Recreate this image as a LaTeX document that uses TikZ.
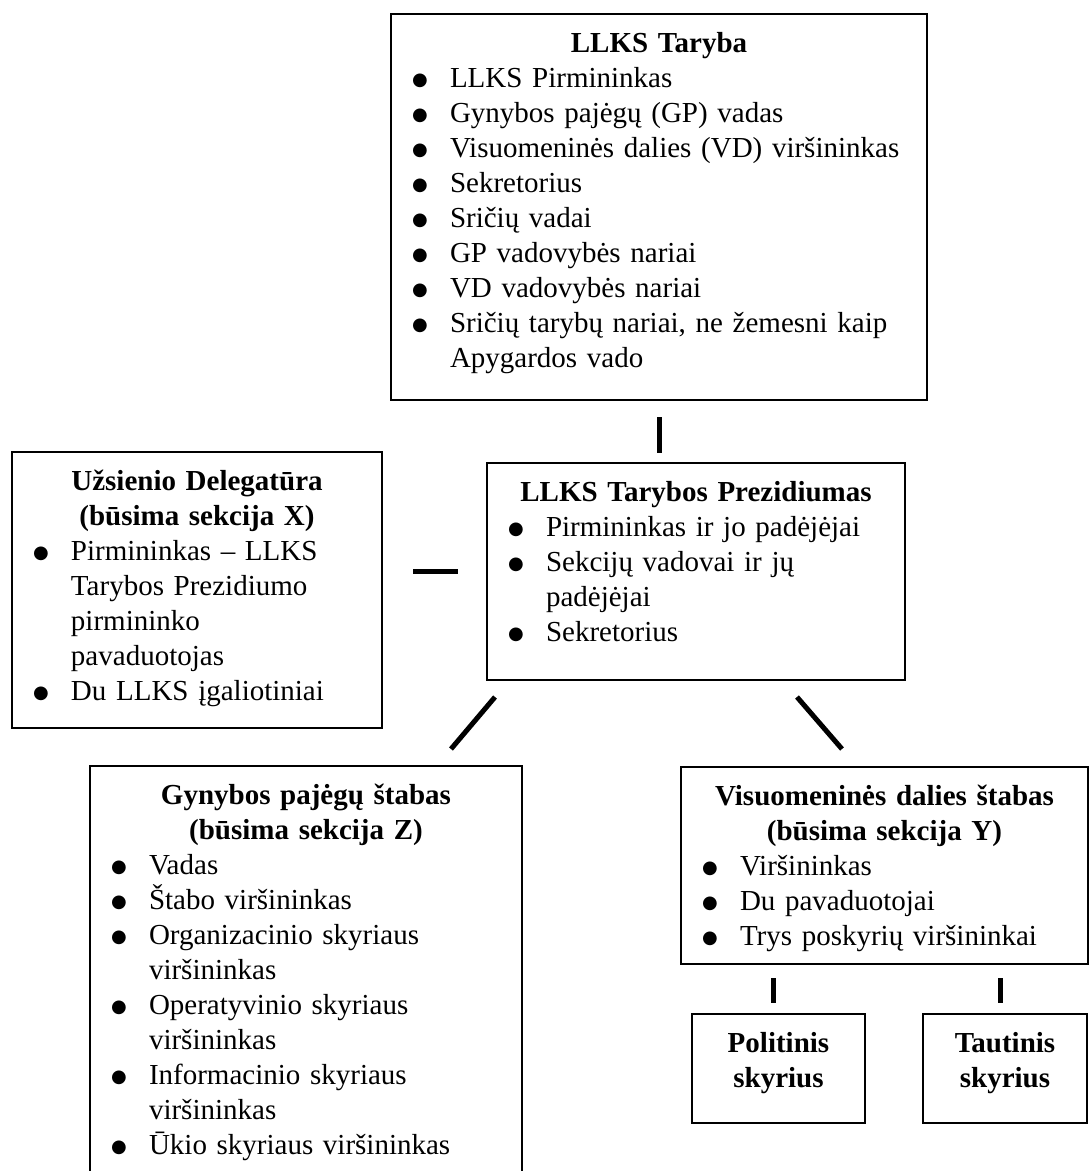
\documentclass[tikz,border=0pt]{standalone}
\usepackage{fontspec}
\setmainfont{Liberation Serif}
\newfontfamily\dotfont{DejaVu Sans}

\newcommand{\itm}{\par\hangindent=59pt\hangafter=1\noindent\makebox[59pt][l]{\hspace{21pt}\raisebox{1.5pt}{\dotfont\fontsize{18}{18}\selectfont ●}}}
\newcommand{\ttl}[1]{{\centering\bfseries #1\par}}

\tikzset{
	orgbox/.style={draw, line width=2pt, inner sep=0pt, outer sep=0pt, anchor=north west,
		align=left, text height=38pt, font=\fontsize{29}{35}\selectfont},
	link/.style={line width=5pt},
}

\begin{document}
\begin{tikzpicture}[x=1pt, y=-1pt]
		\useasboundingbox (0,0) rectangle (1090,1171);
		
		\node [orgbox, text width=536pt, text depth=348pt] (taryba) at (391,14)
		{\ttl{LLKS Taryba}\itm LLKS Pirmininkas\itm Gynybos pajėgų (GP) vadas\itm Visuomeninės dalies (VD) viršininkas\itm Sekretorius\itm Sričių vadai\itm GP vadovybės nariai\itm VD vadovybės nariai\itm Sričių tarybų nariai, ne žemesni kaip\newline Apygardos vado\par};
		
		\node [orgbox, text width=418pt, text depth=179pt] (prezidiumas) at (487,463)
		{\ttl{LLKS Tarybos Prezidiumas}\itm Pirmininkas ir jo padėjėjai\itm Sekcijų vadovai ir jų\newline padėjėjai\itm Sekretorius\par};
		
		\node [orgbox, text width=370pt, text depth=238pt] (delegatura) at (12,452)
		{\ttl{Užsienio Delegatūra\\(būsima sekcija X)}\itm Pirmininkas – LLKS\newline Tarybos Prezidiumo\newline pirmininko\newline pavaduotojas\itm Du LLKS įgaliotiniai\par};
		
		\node [orgbox, text width=432pt, text depth=392pt] (gp-stabas) at (90,766)
		{\ttl{Gynybos pajėgų štabas\\(būsima sekcija Z)}\itm Vadas\itm Štabo viršininkas\itm Organizacinio skyriaus\newline viršininkas\itm Operatyvinio skyriaus\newline viršininkas\itm Informacinio skyriaus\newline viršininkas\itm Ūkio skyriaus viršininkas\par};
		
		\node [orgbox, text width=407pt, text depth=159pt] (vd-stabas) at (681,767)
		{\ttl{Visuomeninės dalies štabas\\(būsima sekcija Y)}\itm Viršininkas\itm Du pavaduotojai\itm Trys poskyrių viršininkai\par};
		
		\foreach \n/\t/\x/\w in {pol/Politinis/692/173, taut/Tautinis/923/164}
		\node [orgbox, text width=\w pt, text depth=71pt] (vd-\n) at (\x,1014) {\ttl{\t\\skyrius}};
		
		\draw [link, shorten <=17pt, shorten >=10pt] (taryba.south) -- (taryba.south |- prezidiumas.north);
		\draw [link, shorten <=31pt, shorten >=29pt] (delegatura.east |- prezidiumas.west) -- (prezidiumas.west);
		\draw [link] ([shift={(8,17)}]prezidiumas.south west) -- ([shift={(-71,-17)}]gp-stabas.north east);
		\draw [link] ([shift={(-108,17)}]prezidiumas.south east) -- ([shift={(161,-18)}]vd-stabas.north west);
		
		\foreach \n in {pol,taut}{
			\coordinate (\n-top) at ([xshift=-5pt]vd-\n.north);
			\draw [link, shorten <=14pt, shorten >=11pt] (\n-top |- vd-stabas.south) -- (\n-top);
		}
		
\end{tikzpicture}
\end{document}
